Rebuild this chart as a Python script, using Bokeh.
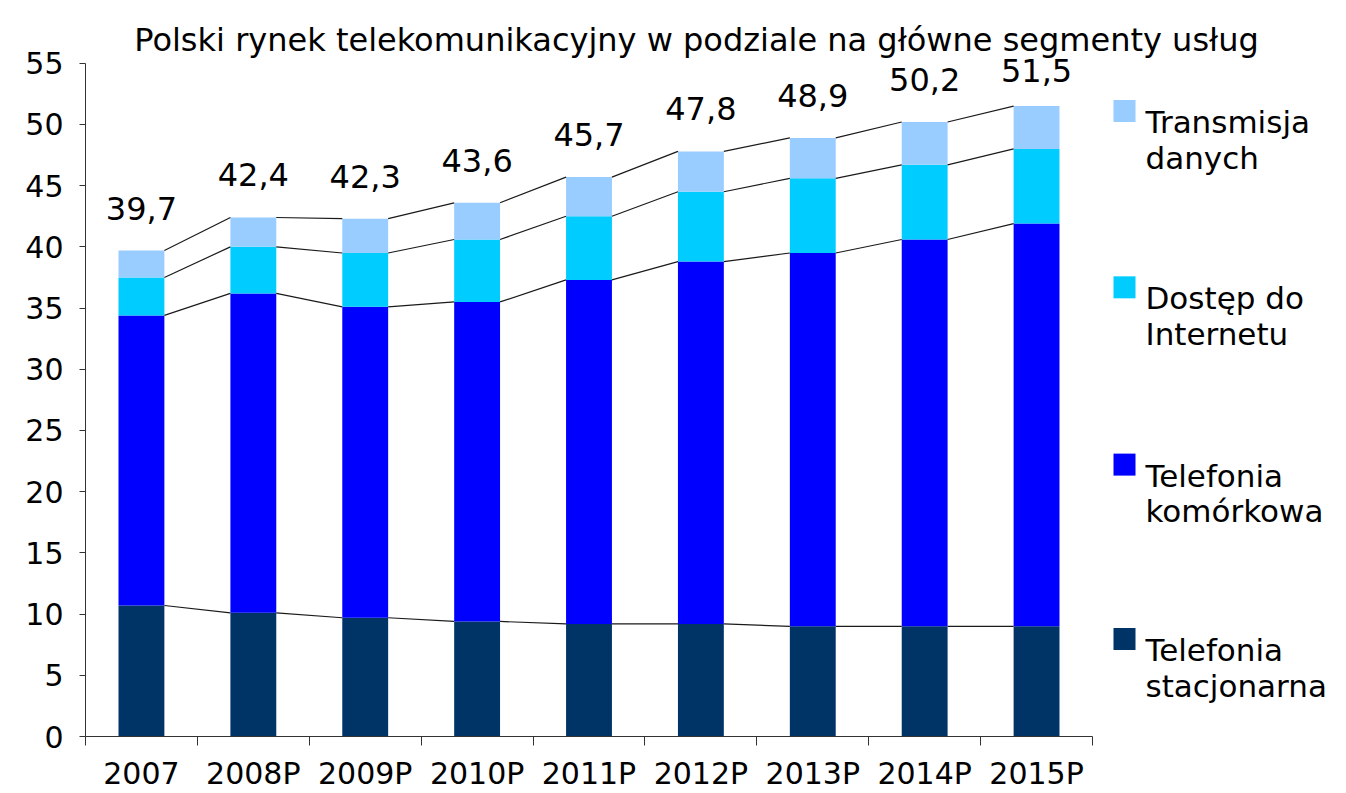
from bokeh.plotting import figure
from bokeh.models import (Range1d, FixedTicker, LinearAxis, ColumnDataSource, LabelSet, Label)
from bokeh.core.properties import value
from bokeh.embed import file_html
from bokeh.resources import INLINE

# ---- data ----
years = ["2007", "2008P", "2009P", "2010P", "2011P", "2012P", "2013P", "2014P", "2015P"]
stacjonarna = [10.7, 10.1, 9.7, 9.4, 9.2, 9.2, 9.0, 9.0, 9.0]
komorkowa = [23.7, 26.1, 25.4, 26.1, 28.1, 29.6, 30.5, 31.6, 32.9]
internet = [3.1, 3.8, 4.4, 5.1, 5.2, 5.7, 6.1, 6.1, 6.1]
transmisja = [2.2, 2.4, 2.8, 3.0, 3.2, 3.3, 3.3, 3.5, 3.5]
totals = [39.7, 42.4, 42.3, 43.6, 45.7, 47.8, 48.9, 50.2, 51.5]
y_ticks = list(range(0, 56, 5))
title_text = "Polski rynek telekomunikacyjny w podziale na główne segmenty usług"
series_names = ["Telefonia\nstacjonarna", "Telefonia\nkomórkowa", "Dostęp do\nInternetu", "Transmisja\ndanych"]
colors = ["#003366", "#0000FF", "#00CCFF", "#99CCFF"]

FONT = "DejaVu Sans"
n = len(years)
xs = list(range(n))
bw = 0.41

# layout geometry (pixels)
W, H = 1346, 793
left, bottom_px = 85, 739          # frame left edge and y of value 0
top_val_px = 63                     # y of value 55
px_per_x = (1092 - 85) / n
px_per_y = (bottom_px - top_val_px) / 55
y_top = 55 * bottom_px / (bottom_px - top_val_px)
x_right = -0.5 + (W - left) / px_per_x


def dx(px):
    return -0.5 + (px - left) / px_per_x


def dy(py):
    return y_top * (bottom_px - py) / bottom_px


# label offsets: 31px above bar, but never with baseline higher than y=82px
label_offsets = [min(31, (bottom_px - t * px_per_y) - 82) for t in totals]

src = ColumnDataSource(dict(x=xs, s1=stacjonarna, s2=komorkowa, s3=internet, s4=transmisja,
                            total=totals, off=label_offsets,
                            lab=[f"{t:.1f}".replace(".", ",") for t in totals]))

p = figure(width=W, height=H, output_backend="svg", toolbar_location=None,
           x_range=Range1d(-0.5, x_right), y_range=Range1d(0, y_top),
           x_axis_type=None, y_axis_type=None,
           min_border_left=left, min_border_right=0, min_border_top=0,
           min_border_bottom=H - bottom_px)
p.outline_line_color = None
p.xgrid.visible = False
p.ygrid.visible = False
p.background_fill_color = "white"

rs = p.vbar_stack(["s1", "s2", "s3", "s4"], x="x", width=bw, color=colors, source=src,
                  line_color=None)

# connecting lines between bar tops
cum = [0.0] * n
for s in [stacjonarna, komorkowa, internet, transmisja]:
    cum = [c + v for c, v in zip(cum, s)]
    p.segment(x0=[i + bw / 2 for i in xs[:-1]], y0=cum[:-1],
              x1=[i + 1 - bw / 2 for i in xs[:-1]], y1=cum[1:],
              line_color="#1a1a1a", line_width=1.2)

# axes
xaxis = LinearAxis(ticker=FixedTicker(ticks=xs, minor_ticks=[i - 0.5 for i in range(n + 1)]),
                   major_label_overrides={i: y for i, y in enumerate(years)},
                   bounds=(-0.5, n - 0.5))
xaxis.major_tick_line_color = None
xaxis.minor_tick_in = 0
xaxis.minor_tick_out = 9
xaxis.minor_tick_line_color = "#333333"
xaxis.axis_line_color = "#333333"
xaxis.major_label_text_font = FONT
xaxis.major_label_text_font_size = "30px"
xaxis.major_label_text_color = "black"
xaxis.major_label_standoff = 10
p.add_layout(xaxis, "below")

yaxis = LinearAxis(ticker=FixedTicker(ticks=y_ticks), bounds=(0, 55))
yaxis.major_tick_in = 0
yaxis.major_tick_out = 6
yaxis.minor_tick_line_color = None
yaxis.major_tick_line_color = "#333333"
yaxis.axis_line_color = "#333333"
yaxis.major_label_text_font = FONT
yaxis.major_label_text_font_size = "30px"
yaxis.major_label_text_color = "black"
yaxis.major_label_standoff = 16
p.add_layout(yaxis, "left")

# total labels
labels = LabelSet(x="x", y="total", text="lab", source=src, text_align="center",
                  text_baseline="alphabetic", y_offset="off", text_font=value(FONT),
                  text_font_size=value("32px"), text_color="black")
p.add_layout(labels)

# title
p.add_layout(Label(x=dx(696), y=dy(40), text=title_text, text_align="center",
                   text_baseline="alphabetic", text_font=FONT, text_font_size="32px",
                   text_color="black"))

# legend (drawn manually: square aligned with first label line)
order = [3, 2, 1, 0]
first_baselines = [122, 299, 477, 652]
line_gap = 36
for k, base in zip(order, first_baselines):
    p.rect(x=[dx(1124)], y=[dy(base - 11)], width=22, height=22,
           width_units="screen", height_units="screen",
           fill_color=colors[k], line_color=None)
    lines = series_names[k].split("\n")
    p.text(x=[dx(1145)] * len(lines),
           y=[dy(base + j * line_gap) for j in range(len(lines))],
           text=lines, text_font=value(FONT), text_font_size=value("31px"),
           text_color="black", text_baseline="alphabetic", text_align="left")

open("out.html", "w").write(file_html(p, INLINE))
